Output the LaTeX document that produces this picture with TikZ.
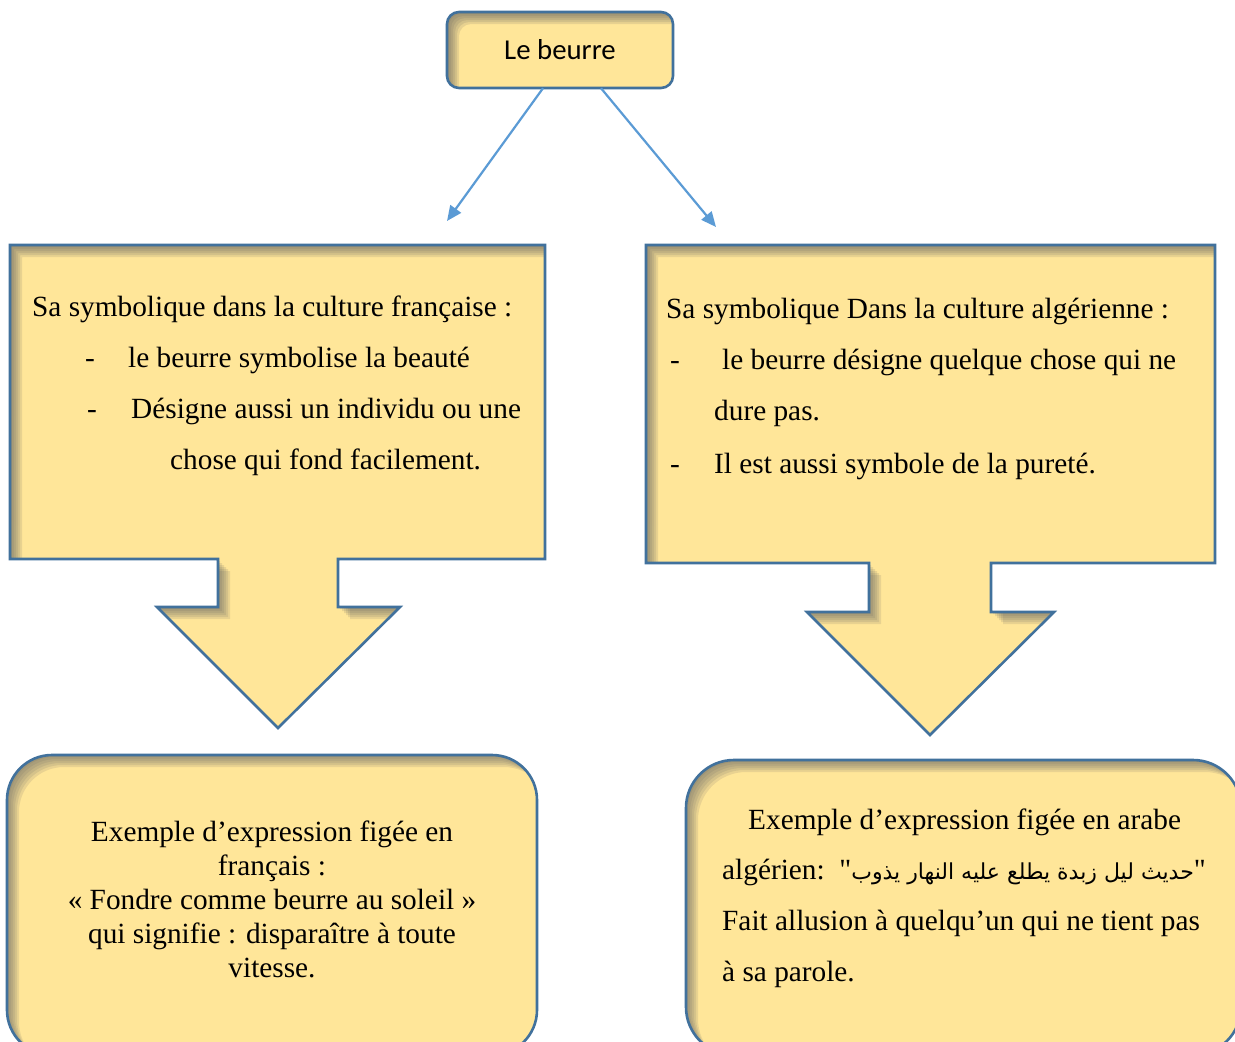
\documentclass[tikz,border=0pt]{standalone}
\usepackage{fontspec}
\setmainfont{Liberation Serif}[Ligatures=TeXOff]
\newfontfamily\calib{Carlito}
\newfontfamily\arabicfont[Script=Arabic]{DejaVu Sans}
\TeXXeTstate=1
\usetikzlibrary{arrows.meta,calc}

\definecolor{butter}{HTML}{FFE699}
\definecolor{rimblue}{HTML}{41719C}
\definecolor{linkblue}{HTML}{5B9BD5}
\definecolor{shade}{HTML}{4A3A08}

% soft inner shadow along the upper and left inner edges of a closed path
\newcommand\innershade[1]{%
  \begin{scope}
    \clip #1;
    \foreach \s in {2,4,6,8,10,12}{
      \begin{scope}[shift={(\s,\s)}]
        \fill[shade, opacity=0.075, even odd rule] (-3000,-3000) rectangle (4000,4000) #1;
      \end{scope}
    }
  \end{scope}}

% a filled panel with inner shadow and blue rim
\newcommand\panel[1]{%
  \fill[butter] #1;
  \innershade{#1}
  \draw[rim] #1;}

\tikzset{
  rim/.style={draw=rimblue, line width=2.6pt, line join=miter},
  link/.style={draw=linkblue, line width=2.2pt, -{Triangle[length=15pt,width=13pt]}},
  body/.style={inner sep=0pt, text=black, font=\fontsize{29.3}{34}\selectfont},
  lineL/.style={body, anchor=base west},
  lineC/.style={body, anchor=base},
}

\begin{document}
\begin{tikzpicture}[x=1pt, y=-1pt]
  \clip (0,0) rectangle (1235,1042);
  \fill[white] (0,0) rectangle (1235,1042);

  % title box
  \panel{[rounded corners=12pt] (447,12) rectangle (673,88)}
  \node[inner sep=0pt, minimum width=226pt, minimum height=76pt,
        font=\calib\fontsize{28.8}{34}\selectfont] (top) at (560,50) {Le beurre};

  % branches from the title
  \coordinate (leftend) at (447,221);
  \coordinate (rightend) at (716,227);
  \draw[link] ($(top.south)+(-17,0)$) -- (leftend);
  \draw[link] ($(top.south)+(41,0)$) -- (rightend);

  % left callout with its down arrow
  \panel{(10,245) -- (545,245) -- (545,559) -- (338,559) -- (338,607) -- (400,607)
         -- (278,728) -- (157,607) -- (218,607) -- (218,559) -- (10,559) -- cycle}

  % right callout with its down arrow
  \panel{(646,245) -- (1215,245) -- (1215,563) -- (991,563) -- (991,612) -- (1054,612)
         -- (930,735) -- (807,612) -- (869,612) -- (869,563) -- (646,563) -- cycle}

  % lower rounded boxes
  \panel{[rounded corners=45pt] (7,755) rectangle (537,1055)}
  \panel{[rounded corners=48pt] (686,760) rectangle (1241,1055)}

  % left callout text
  \node[lineL] (fr0) at (32,316) {Sa symbolique dans la culture française :};
  \node[lineL] (frd1) at (85,367) {-};
  \node[lineL] (fr1) at (128,367) {le beurre symbolise la beauté};
  \node[lineL] (frd2) at (87,418) {-};
  \node[lineL] (fr2) at (131,418) {Désigne aussi un individu ou une};
  \node[lineL] (fr3) at (170,469) {chose qui fond facilement.};

  % right callout text
  \node[lineL] (dz0) at (666,318) {Sa symbolique Dans la culture algérienne :};
  \node[lineL] (dzd1) at (670,369) {-};
  \node[lineL] (dz1) at (722,369) {le beurre désigne quelque chose qui ne};
  \node[lineL] (dz2) at (714,420) {dure pas.};
  \node[lineL] (dzd3) at (670,473) {-};
  \node[lineL] (dz3) at (714,473) {Il est aussi symbole de la pureté.};

  % lower left example
  \node[lineC] (exf1) at (272,841) {Exemple d’expression figée en};
  \node[lineC] (exf2) at (272,875) {français :};
  \node[lineC] (exf3) at (272,909) {« Fondre comme beurre au soleil »};
  \node[lineC] (exf4) at (272,943) {qui signifie : disparaître à toute};
  \node[lineC] (exf5) at (272,977) {vitesse.};

  % lower right example
  \node[lineL] (exa1) at (748,829) {Exemple d’expression figée en arabe};
  \node[lineL] (exa2) at (722,879) {algérien:\ \ "{\arabicfont\fontsize{22}{30}\selectfont\beginR حديث ليل زبدة يطلع عليه النهار يذوب\endR}"};
  \node[lineL] (exa3) at (722,930) {Fait allusion à quelqu’un qui ne tient pas};
  \node[lineL] (exa4) at (722,981) {à sa parole.};
\end{tikzpicture}
\end{document}
